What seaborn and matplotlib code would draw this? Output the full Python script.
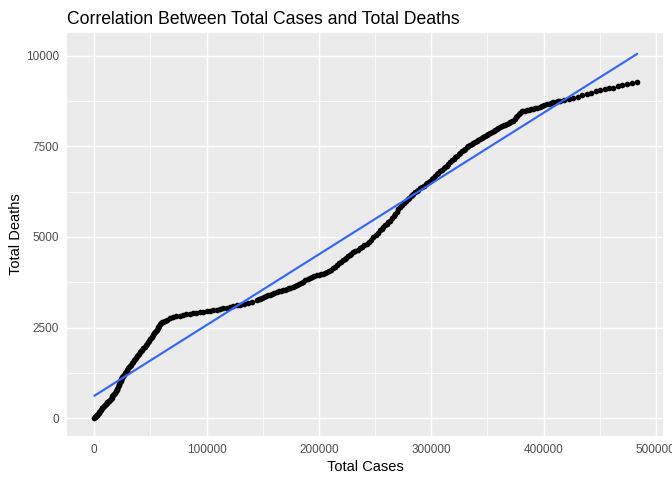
import matplotlib
matplotlib.use("Agg")
import matplotlib.pyplot as plt
import seaborn as sns
import pandas as pd

# Cumulative totals
total_cases = [
    0, 500, 1000, 1600, 2200, 2800, 3400, 4000, 4600, 5200,
    5900, 6600, 7300, 8000, 8700, 9500, 10200, 11000, 11700, 12500,
    13200, 14000, 14700, 15500, 16200, 17000, 17700, 18500, 19200, 19900,
    20500, 21000, 21700, 22300, 22900, 23500, 24000, 24400, 25100, 25800,
    26500, 27200, 28000, 28800, 29500, 30300, 31100, 32000, 32900, 33800,
    34600, 35500, 36400, 37300, 38200, 39200, 40100, 41000, 41900, 42900,
    43800, 44800, 45700, 46700, 47600, 48500, 49400, 50400, 51300, 52200,
    53100, 54100, 54800, 55600, 56300, 57000, 57700, 58500, 59200, 60000,
    61500, 63000, 65000, 67500, 70300, 73000, 76000, 79000, 82000, 85000,
    88200, 91000, 94000, 97000, 100000, 103000, 106000, 109000, 112000, 115000,
    118000, 121000, 123800, 127000, 130000, 133500, 137000, 140500, 144600, 146300,
    148000, 149700, 151500, 153200, 155000, 156700, 158500, 160400, 162400, 164200,
    166000, 167700, 169500, 171200, 173000, 174700, 176500, 178300, 180200, 182100,
    184000, 186000, 188000, 190000, 192100, 194000, 196000, 198000, 200000, 201700,
    203500, 205200, 206900, 208700, 210500, 212200, 214000, 216000, 218000, 219800,
    221700, 223100, 224500, 226000, 227500, 229000, 230600, 232500, 234500, 236500,
    238500, 240500, 242600, 244500, 246500, 248500, 250500, 252400, 254400, 256000,
    257500, 259000, 260500, 261900, 263300, 264900, 266500, 268000, 269500, 270800,
    272200, 273800, 275500, 277200, 279000, 280500, 282000, 283000, 284100, 285500,
    287000, 288500, 290000, 291700, 293500, 295000, 296500, 297700, 298900, 300500,
    302000, 303500, 305000, 306500, 308000, 309500, 311000, 312400, 313800, 315400,
    317000, 318500, 320000, 321500, 323000, 324500, 326000, 327400, 328800, 330200,
    331600, 333000, 334500, 336000, 337500, 339000, 340500, 342000, 343500, 345000,
    346500, 348000, 349500, 351000, 352500, 354000, 355500, 356900, 358300, 359900,
    361500, 363000, 364500, 366000, 367500, 369000, 370500, 371800, 373100, 374300,
    375500, 376700, 378000, 379300, 380600, 382000, 383500, 385200, 387000, 388900,
    390900, 392700, 394500, 396500, 398500, 400600, 402800, 405000, 407000, 408900,
    410800, 412700, 414700, 418500, 422500, 426500, 430500, 434500, 438500, 442500,
    446500, 450300, 454500, 458500, 462200, 466000, 470000, 474100, 479000, 483500,
]
total_deaths = [
    0, 15, 30, 50, 70, 95, 115, 140, 165, 195,
    230, 267, 290, 310, 335, 360, 385, 410, 430, 450,
    470, 496, 525, 560, 595, 630, 665, 700, 735, 771,
    810, 850, 900, 950, 990, 1030, 1065, 1094, 1125, 1160,
    1195, 1230, 1265, 1300, 1335, 1369, 1405, 1440, 1475, 1510,
    1550, 1590, 1625, 1660, 1700, 1736, 1770, 1810, 1850, 1890,
    1930, 1970, 2015, 2058, 2095, 2130, 2170, 2210, 2250, 2290,
    2335, 2377, 2410, 2440, 2475, 2510, 2550, 2590, 2620, 2640,
    2660, 2690, 2720, 2760, 2791, 2810, 2830, 2850, 2865, 2885,
    2901, 2910, 2925, 2940, 2955, 2965, 2975, 2990, 3010, 3030,
    3050, 3070, 3090, 3110, 3130, 3155, 3180, 3210, 3251, 3275,
    3300, 3325, 3350, 3372, 3390, 3410, 3430, 3455, 3479, 3495,
    3510, 3525, 3540, 3560, 3580, 3600, 3620, 3640, 3664, 3690,
    3720, 3762, 3800, 3835, 3865, 3893, 3920, 3942, 3960, 3975,
    3990, 4008, 4030, 4062, 4100, 4140, 4180, 4225, 4270, 4310,
    4353, 4385, 4420, 4462, 4500, 4540, 4582, 4618, 4650, 4686,
    4720, 4765, 4812, 4870, 4930, 4990, 5050, 5115, 5179, 5225,
    5270, 5320, 5370, 5410, 5455, 5515, 5580, 5640, 5700, 5760,
    5821, 5875, 5930, 5985, 6040, 6085, 6130, 6160, 6190, 6230,
    6270, 6305, 6340, 6380, 6420, 6460, 6500, 6528, 6556, 6600,
    6640, 6685, 6730, 6775, 6820, 6860, 6900, 6935, 6970, 7020,
    7070, 7115, 7160, 7205, 7250, 7290, 7330, 7365, 7400, 7437,
    7474, 7507, 7540, 7570, 7600, 7625, 7650, 7678, 7705, 7732,
    7760, 7790, 7820, 7845, 7870, 7900, 7930, 7955, 7981, 8005,
    8030, 8055, 8080, 8100, 8120, 8145, 8170, 8190, 8209, 8255,
    8300, 8350, 8400, 8435, 8466, 8478, 8490, 8500, 8510, 8521,
    8532, 8550, 8570, 8595, 8620, 8645, 8669, 8685, 8700, 8715,
    8730, 8745, 8760, 8780, 8810, 8835, 8870, 8910, 8945, 8980,
    9020, 9055, 9080, 9105, 9127, 9160, 9190, 9220, 9250, 9284,
]
x_ticks = [0, 100000, 200000, 300000, 400000, 500000]
y_ticks = [0, 2500, 5000, 7500, 10000]

df = pd.DataFrame({"total_cases": total_cases, "total_deaths": total_deaths})

sns.set_theme(style="darkgrid", rc={
    "axes.facecolor": "#EBEBEB",
    "grid.color": "white",
    "axes.edgecolor": "white",
})
plt.rcParams["font.family"] = ["Liberation Sans", "DejaVu Sans"]

fig = plt.figure(figsize=(7, 5), dpi=96)
ax = fig.add_axes([0.0997, 0.0917, 0.8869, 0.8396])

sns.regplot(
    data=df, x="total_cases", y="total_deaths", ax=ax, ci=None,
    scatter_kws={"s": 18, "color": "black", "linewidths": 0, "alpha": 1},
    line_kws={"color": "#3366FF", "linewidth": 1.6},
)

ax.set_xlim(-24300, 506400)
ax.set_ylim(-496, 10634)
ax.set_xticks(x_ticks)
ax.set_xticklabels([str(v) for v in x_ticks])
ax.set_yticks(y_ticks)
ax.set_yticklabels([str(v) for v in y_ticks])
ax.set_xticks([50000, 150000, 250000, 350000, 450000], minor=True)
ax.set_yticks([1250, 3750, 6250, 8750], minor=True)

ax.grid(which="major", color="white", linewidth=1.1)
ax.grid(which="minor", color="white", linewidth=0.55)
ax.set_axisbelow(True)
for s in ax.spines.values():
    s.set_visible(False)

ax.tick_params(axis="both", which="major", labelsize=8.8, labelcolor="#4D4D4D",
               color="#333333", length=3.5, width=0.8, pad=2.5)
ax.tick_params(axis="both", which="minor", length=0)

ax.set_xlabel("Total Cases", fontsize=11, color="black", labelpad=3)
ax.set_ylabel("Total Deaths", fontsize=11, color="black", labelpad=2)
ax.set_title("Correlation Between Total Cases and Total Deaths",
             loc="left", fontsize=13.2, color="black", pad=7)

fig.savefig("out.png", dpi=96)
